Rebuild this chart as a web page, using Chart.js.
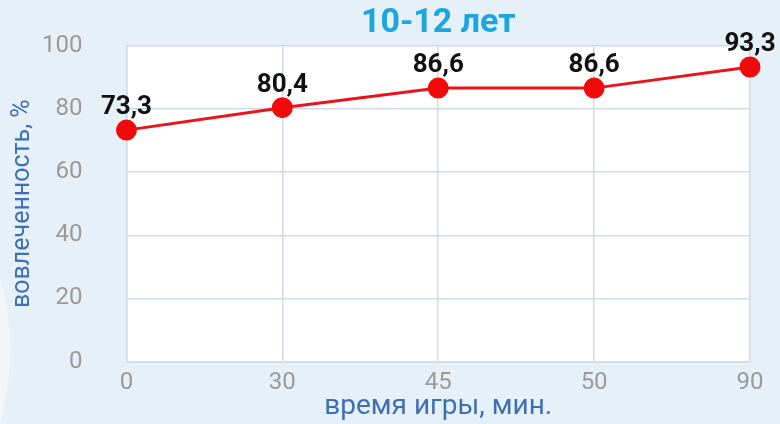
<!DOCTYPE html>
<html>
<head>
<meta charset="utf-8">
<script src="https://cdn.jsdelivr.net/npm/chart.js@4"></script>
<style>
  html, body { margin: 0; padding: 0; background: #e6f0f8; }
  #wrap { width: 780px; height: 424px; }
</style>
</head>
<body>
<div id="wrap"><canvas id="engagementChart" width="780" height="424"></canvas></div>
<script>
const minutes = ['0', '30', '45', '50', '90'];
const engagement = [73.3, 80.4, 86.6, 86.6, 93.3];
const yTicks = [0, 20, 40, 60, 80, 100];

// фон: светлый блик слева и белая область графика
const plotBg = {
  id: 'plotBg',
  beforeDraw(chart) {
    const { ctx, chartArea: a } = chart;
    ctx.save();
    ctx.fillStyle = '#f1f6fb';
    ctx.beginPath();
    ctx.ellipse(-48, 350, 58, 130, 0, 0, Math.PI * 2);
    ctx.fill();
    ctx.fillStyle = '#ffffff';
    ctx.fillRect(a.left, a.top, a.right - a.left, a.bottom - a.top);
    ctx.restore();
  }
};

// подписи значений над точками
const valueLabels = {
  id: 'valueLabels',
  afterDatasetsDraw(chart) {
    const { ctx } = chart;
    const meta = chart.getDatasetMeta(0);
    ctx.save();
    ctx.font = 'bold 26px Roboto';
    ctx.fillStyle = '#111';
    ctx.textAlign = 'center';
    ctx.textBaseline = 'alphabetic';
    meta.data.forEach((pt, i) => {
      const txt = engagement[i].toFixed(1).replace('.', ',');
      ctx.fillText(txt, pt.x, pt.y - 16);
    });
    ctx.restore();
  }
};

new Chart(document.getElementById('engagementChart'), {
  type: 'line',
  data: {
    labels: minutes,
    datasets: [{
      data: engagement,
      borderColor: '#e8141b',
      borderWidth: 3,
      pointBackgroundColor: '#f20a0a',
      pointBorderColor: '#f20a0a',
      pointRadius: 9,
      tension: 0,
      clip: false
    }]
  },
  options: {
    responsive: false,
    animation: false,
    layout: { padding: { top: 0, right: 30, bottom: 0, left: 8 } },
    plugins: {
      legend: { display: false },
      tooltip: { enabled: false },
      title: {
        display: true,
        text: '10-12 лет',
        color: '#1ba6df',
        fullSize: false,
        font: { family: 'Roboto', size: 34, weight: 'bold' },
        padding: { top: 3, bottom: 2 }
      }
    },
    scales: {
      x: {
        offset: false,
        grid: { color: '#cfdbe6', lineWidth: 1.5, drawTicks: false },
        border: { color: '#cfdbe6', width: 1.5 },
        ticks: { color: '#9a9a9a', padding: 6.5, font: { family: 'Roboto', size: 24 } },
        title: {
          display: true,
          text: 'время игры, мин.',
          color: '#3f6fb3',
          padding: { top: -13, bottom: 0 },
          font: { family: 'Roboto', size: 28 }
        }
      },
      y: {
        min: 0,
        max: 100,
        afterBuildTicks(axis) { axis.ticks = yTicks.map(v => ({ value: v })); },
        grid: { color: '#cfdbe6', lineWidth: 1.5, drawTicks: true, tickLength: 40, tickColor: 'rgba(0,0,0,0)' },
        border: { color: '#cfdbe6', width: 1.5 },
        ticks: { color: '#9a9a9a', padding: 4, font: { family: 'Roboto', size: 24 } },
        title: {
          display: true,
          text: 'вовлеченность, %',
          color: '#3f6fb3',
          padding: { top: 0, bottom: 0 },
          font: { family: 'Roboto', size: 25 }
        }
      }
    }
  },
  plugins: [plotBg, valueLabels]
});
</script>
</body>
</html>
